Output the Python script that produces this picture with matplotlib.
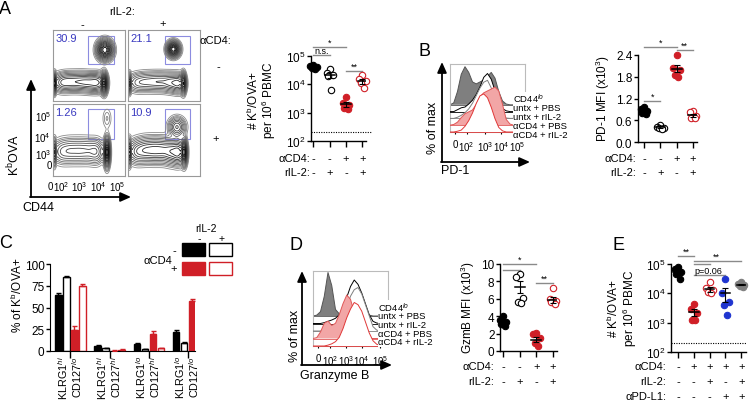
import numpy as np
import matplotlib
matplotlib.use('Agg')
import matplotlib.pyplot as plt
from matplotlib import transforms
from matplotlib.patches import Rectangle
from matplotlib.ticker import LogLocator, NullLocator, FixedLocator

plt.rcParams['font.family'] = 'Liberation Sans'
plt.rcParams['mathtext.fontset'] = 'custom'
plt.rcParams['mathtext.rm'] = 'Liberation Sans'
plt.rcParams['mathtext.it'] = 'Liberation Sans:italic'
plt.rcParams['mathtext.bf'] = 'Liberation Sans:bold'
plt.rcParams['font.size'] = 7

W, H = 750, 402
RED = '#d01f27'
PINK = '#f2a6a6'
BLUE = '#1f35d0'
GRAY = '#7f7f7f'
SIG = '#8a8a8a'

# ---- data ----
# A: flow populations (cx, cy, sx, sy, weight) in plot fractions
flow_tl = [(0.02, 0.25, 0.014, 0.07, 1.4), (0.12, 0.26, 0.07, 0.07, 0.45),
           (0.22, 0.27, 0.07, 0.07, 0.4), (0.32, 0.27, 0.07, 0.07, 0.4),
           (0.42, 0.27, 0.07, 0.07, 0.45), (0.52, 0.26, 0.07, 0.07, 0.5),
           (0.62, 0.26, 0.06, 0.07, 0.6), (0.71, 0.25, 0.025, 0.075, 1.5),
           (0.72, 0.72, 0.055, 0.07, 1.8)]
flow_tr = [(0.02, 0.25, 0.014, 0.07, 1.2), (0.12, 0.26, 0.07, 0.07, 0.4),
           (0.24, 0.27, 0.07, 0.07, 0.45), (0.36, 0.27, 0.07, 0.07, 0.5),
           (0.48, 0.27, 0.07, 0.07, 0.55), (0.60, 0.26, 0.06, 0.07, 0.7),
           (0.70, 0.25, 0.05, 0.07, 0.9), (0.77, 0.25, 0.02, 0.075, 1.5),
           (0.63, 0.73, 0.045, 0.055, 2.4)]
flow_bl = [(0.02, 0.33, 0.014, 0.09, 1.3), (0.12, 0.34, 0.07, 0.09, 0.45),
           (0.24, 0.35, 0.07, 0.09, 0.5), (0.36, 0.35, 0.07, 0.09, 0.5),
           (0.48, 0.35, 0.07, 0.09, 0.5), (0.60, 0.34, 0.06, 0.09, 0.6),
           (0.75, 0.33, 0.022, 0.1, 2.8), (0.75, 0.80, 0.035, 0.08, 0.12)]
flow_br = [(0.02, 0.33, 0.014, 0.09, 1.0), (0.12, 0.34, 0.07, 0.09, 0.45),
           (0.24, 0.36, 0.07, 0.09, 0.55), (0.36, 0.36, 0.07, 0.09, 0.6),
           (0.48, 0.36, 0.07, 0.09, 0.6), (0.60, 0.34, 0.06, 0.09, 0.7),
           (0.70, 0.33, 0.05, 0.09, 0.9), (0.78, 0.33, 0.022, 0.09, 1.6),
           (0.68, 0.68, 0.06, 0.07, 0.6)]
flow_gates = [(0.49, 0.52, 0.85, 0.92), (0.51, 0.52, 0.86, 0.92),
              (0.49, 0.51, 0.85, 0.93), (0.51, 0.51, 0.86, 0.93)]
flow_pct = ['30.9', '21.1', '1.26', '10.9']

# A: counts
a_vals = [[4.8e4, 4.3e4, 4.0e4, 3.7e4, 3.4e4],
          [3.5e4, 2.6e4, 2.1e4, 1.9e4, 6.5e3],
          [3.5e3, 2.2e3, 1.8e3, 1.5e3, 1.3e3],
          [2.1e4, 1.6e4, 1.3e4, 1.1e4, 7.5e3]]
a_mean = [4.0e4, 2.2e4, 2.0e3, 1.3e4]
a_sem = [3e3, 5e3, 4e2, 2.5e3]

# B: PD-1 histograms (x as plot fraction, height as fraction of max)
hist_x = [0, .05, .1, .15, .2, .25, .3, .35, .4, .45, .5, .55, .6, .65, .7,
          .75, .8, .85, .9, .95, 1]
b_cd44lo = [0, .05, .35, .8, 1.0, .85, .6, .55, .6, .65, .75, .85, .7, .35,
            .1, .02, 0, 0, 0, 0, 0]
b_untx_pbs = [0, 0, .05, .1, .12, .2, .3, .45, .65, .9, 1.0, .85, .55, .25,
              .08, .02, 0, 0, 0, 0, 0]
b_untx_il2 = [0, 0, .03, .08, .15, .25, .4, .6, .8, .95, 1.0, .8, .5, .2,
              .06, .01, 0, 0, 0, 0, 0]
b_cd4_pbs = [0, .02, .08, .2, .3, .35, .4, .55, .75, .85, .9, .95, 1.0, .9,
             .55, .15, .03, 0, 0, 0, 0]
b_cd4_il2 = [0, 0, .02, .05, .15, .3, .5, .75, .95, 1.0, .9, .65, .35, .12,
             .03, 0, 0, 0, 0, 0, 0]
hist_names = ['CD44$^{lo}$', 'untx + PBS', 'untx + rIL-2', 'αCD4 + PBS',
              'αCD4 + rIL-2']

b_vals = [[0.97, 0.92, 0.86, 0.80, 0.78],
          [0.46, 0.42, 0.40, 0.38, 0.37],
          [2.40, 2.05, 2.00, 1.85, 1.80],
          [0.85, 0.82, 0.72, 0.66, 0.65]]
b_mean = [0.87, 0.41, 2.02, 0.74]
b_sem = [0.04, 0.02, 0.10, 0.04]

# C: phenotypes
c_lab1 = ['KLRG1$^{hi}$', 'KLRG1$^{hi}$', 'KLRG1$^{lo}$', 'KLRG1$^{lo}$']
c_lab2 = ['CD127$^{lo}$', 'CD127$^{hi}$', 'CD127$^{hi}$', 'CD127$^{lo}$']
c_untx_pbs = [64, 6, 8, 22]
c_untx_pbs_err = [3, 0.6, 1, 2]
c_untx_il2 = [85, 3, 2, 9]
c_untx_il2_err = [1, 0.5, 0.5, 1]
c_cd4_pbs = [24, 0.5, 20, 57]
c_cd4_pbs_err = [5, 0.3, 2.5, 3]
c_cd4_il2 = [75, 1.5, 3, 21]
c_cd4_il2_err = [2.5, 0.5, 0.5, 2.5]

# D: granzyme B histograms
d_cd44lo = [0, .02, .1, .45, 1.0, .7, .15, .05, .1, .3, .6, .75, .6, .3,
            .1, .02, 0, 0, 0, 0, 0]
d_untx_pbs = [0, 0, 0, .02, .05, .08, .12, .2, .35, .6, .85, 1.0, .9, .7,
              .45, .2, .05, .01, 0, 0, 0]
d_untx_il2 = [0, 0, 0, .02, .05, .08, .12, .2, .35, .55, .8, .95, 1.0, .85,
              .6, .35, .1, .02, 0, 0, 0]
d_cd4_pbs = [0, .02, .15, .35, .4, .3, .35, .55, .8, 1.0, .9, .6, .25, .08,
             .02, 0, 0, 0, 0, 0, 0]
d_cd4_il2 = [0, 0, 0, 0, .02, .05, .1, .2, .4, .65, .85, 1.0, .95, .8, .55,
             .3, .12, .04, .01, 0, 0]

d_vals = [[4.0, 3.6, 3.3, 3.1, 2.9],
          [8.8, 8.5, 6.1, 5.6, 5.5],
          [2.1, 1.9, 1.5, 0.9, 0.6],
          [7.2, 6.0, 5.8, 5.6, 5.4]]
d_mean = [3.4, 7.4, 1.3, 5.9]
d_sem = [0.2, 0.7, 0.3, 0.35]

# E: counts with aPD-L1
e_vals = [[8e4, 6.5e4, 5.5e4, 4.5e4, 3e4],
          [4.5e3, 3e3, 2.2e3, 1.2e3, 1.2e3],
          [2.5e4, 1.5e4, 1.3e4, 1.1e4, 1.0e4],
          [3e4, 1e4, 5e3, 4e3, 1.8e3],
          [2.5e4, 2.1e4, 2.0e4, 1.8e4, 1.6e4]]
e_mean = [5.5e4, 2.3e3, 1.4e4, 1.0e4, 2.0e4]
e_sem = [8e3, 6e2, 2.5e3, 5e3, 1.5e3]

LOD = 2e2

# ---- helpers ----
fig = plt.figure(figsize=(W / 100, H / 100), dpi=100)

ov = fig.add_axes([0, 0, 1, 1])
ov.set_xlim(0, W)
ov.set_ylim(H, 0)
ov.axis('off')
ov.set_zorder(10)
ov.patch.set_visible(False)


def box(x0, y0, x1, y1):
    return fig.add_axes([x0 / W, 1 - y1 / H, (x1 - x0) / W, (y1 - y0) / H])


def txt(x, y, s, **kw):
    kw.setdefault('ha', 'center')
    kw.setdefault('va', 'center')
    kw.setdefault('fontsize', 8)
    return ov.text(x, y, s, **kw)


def arrow(x0, y0, x1, y1):
    ov.annotate('', xy=(x1, y1), xytext=(x0, y0),
                arrowprops=dict(arrowstyle='-|>,head_length=0.9,head_width=0.4',
                                color='k', lw=1.3, shrinkA=0, shrinkB=0))


OFFS = [0.0, -0.2, 0.2, -0.1, 0.1]


def dot_plot(ax, vals, means, sems, styles, xlim, ylim, log=False):
    for i, (v, m, s, (c, filled)) in enumerate(zip(vals, means, sems, styles)):
        xs = [i + OFFS[k] for k in range(len(v))]
        ax.plot(xs, v, 'o', ms=4.6, mfc=c if filled else 'white', mec=c,
                mew=0.8, ls='none', zorder=3, clip_on=False)
        ax.plot([i - 0.3, i + 0.3], [m, m], color='k', lw=1.1, zorder=4)
        ax.errorbar(i, m, yerr=s, color='k', lw=0.8, capsize=2.2,
                    capthick=0.8, zorder=4)
    if log:
        ax.set_yscale('log')
        ax.yaxis.set_major_locator(LogLocator(base=10, numticks=10))
        ax.yaxis.set_minor_locator(NullLocator())
    ax.set_xlim(*xlim)
    ax.set_ylim(*ylim)
    ax.set_xticks(range(len(vals)))
    ax.set_xticklabels([])
    for sp in ['top', 'right']:
        ax.spines[sp].set_visible(False)
    for sp in ['left', 'bottom']:
        ax.spines[sp].set_linewidth(1)
    ax.tick_params(axis='x', length=4, width=1)
    ax.tick_params(axis='y', length=3, width=1, labelsize=8.5, pad=1)
    ax.patch.set_visible(False)


def sig(ax, x1, x2, y, label, dx=0.0):
    ax.plot([x1, x2], [y, y], color=SIG, lw=1, clip_on=False)
    if label:
        ax.annotate(label, xy=((x1 + x2) / 2 + dx, y), xytext=(0, 0.3),
                    textcoords='offset points', ha='center', va='bottom',
                    fontsize=6.5, annotation_clip=False)


def row_labels(ax, labels, signs, ys, xr):
    tr = transforms.blended_transform_factory(ax.transData, ov.transData)
    for lab, sg, y in zip(labels, signs, ys):
        txt(xr, y, lab, ha='right')
        for i, s in enumerate(sg):
            ov.text(i, y, s, transform=tr, ha='center', va='center',
                    fontsize=8)


FG = np.linspace(0, 1, 160)
FX, FY = np.meshgrid(FG, FG)
LEVELS = [0.012, 0.025, 0.04, 0.06, 0.09, 0.13, 0.18, 0.24, 0.31, 0.4,
          0.5, 0.62, 0.75, 0.88]


def flow(ax, blobs, gate, pct):
    Z = np.zeros_like(FX)
    for cx, cy, sx, sy, w in blobs:
        Z += w * np.exp(-0.5 * (((FX - cx) / sx) ** 2 + ((FY - cy) / sy) ** 2))
    cols = [str(0.55 - 0.55 * k / (len(LEVELS) - 1)) for k in range(len(LEVELS))]
    ax.contour(FX, FY, Z, levels=Z.max() * np.array(LEVELS), colors=cols,
               linewidths=0.6)
    g0, h0, g1, h1 = gate
    ax.add_patch(Rectangle((g0, h0), g1 - g0, h1 - h0, fill=False,
                           ec='#8c8ce0', lw=0.8))
    ax.text(0.03, 0.96, pct, transform=ax.transAxes, color='#3a3ac0',
            fontsize=8, ha='left', va='top')
    ax.set_xlim(0, 1)
    ax.set_ylim(0, 1)
    for sp in ax.spines.values():
        sp.set_color('#999999')
        sp.set_linewidth(0.8)
    ax.set_xticks([])
    ax.set_yticks([])


def hist(ax, curves, styles, scale, ticks):
    offs = [0.4, 0.3, 0.2, 0.1, 0.0]
    for k, (y, (fc, ec)) in enumerate(zip(curves, styles)):
        base = offs[k]
        top = base + scale * np.array(y)
        ax.fill_between(hist_x, base, top, facecolor=fc, edgecolor='none',
                        zorder=2 + k)
        ax.plot(hist_x, top, color=ec, lw=0.7, zorder=2.5 + k)
        ax.plot([0, 1], [base, base], color=ec, lw=0.6, zorder=2.5 + k,
                clip_on=False)
    ax.set_xlim(0, 1)
    ax.set_ylim(0, 1)
    for sp in ax.spines.values():
        sp.set_color('#bbbbbb')
        sp.set_linewidth(0.8)
    ax.set_yticks([])
    ax.xaxis.set_major_locator(FixedLocator(ticks))
    ax.set_xticklabels(['0', '10$^2$', '10$^3$', '10$^4$', '10$^5$'])
    ax.tick_params(axis='x', length=1.5, labelsize=7, pad=3.5)


hist_styles = [(GRAY, '#555555'), ('white', 'k'), ('white', GRAY),
               (PINK, '#e05858'), ('white', '#e03838')]

# ---- A ----
txt(5, 10, 'A', fontsize=13)
txt(122, 12, 'rIL-2:')
txt(82, 25, '-')
txt(163, 24, '+')
txt(215, 41, 'αCD4:')
txt(218, 67, '-')
txt(216, 139, '+')

boxes = [(53, 31, 125, 102), (128, 31, 200, 102),
         (53, 105, 125, 177), (128, 105, 200, 177)]
for bx, blobs, gate, pct in zip(boxes, [flow_tl, flow_tr, flow_bl, flow_br],
                                flow_gates, flow_pct):
    flow(box(*bx), blobs, gate, pct)
for lab, fx in zip(['0', '10$^2$', '10$^3$', '10$^4$', '10$^5$'],
                   [-0.04, 0.11, 0.36, 0.63, 0.89]):
    txt(53 + fx * 72, 187, lab, fontsize=7)
for lab, fy, dx in zip(['10$^5$', '10$^4$', '10$^3$', '0'],
                       [0.83, 0.54, 0.31, 0.15], [0, 0, 0, 1]):
    txt(51 + dx, 177 - fy * 72, lab, fontsize=7, ha='right')
arrow(31, 198, 31, 80)
arrow(30, 198, 131, 198)
txt(14, 155, 'K$^{\\mathrm{b}}$OVA', rotation=90, fontsize=9)
txt(38, 208, 'CD44', fontsize=9)

ax_a = box(311, 57, 366, 142)
dot_plot(ax_a, a_vals, a_mean, a_sem,
         [('k', True), ('k', False), (RED, True), (RED, False)],
         (-0.15, 3.22), (1e2, 1e5), log=True)
ax_a.axhline(LOD, color='k', lw=0.8, ls=(0, (1, 1.2)), xmax=1.1,
             clip_on=False)
sig(ax_a, 0, 2, 2.1e5, '*')
sig(ax_a, 0, 1, 1.08e5, 'n.s.')
sig(ax_a, 2, 3, 3.0e4, '**')
txt(253, 100, '# K$^{\\mathrm{b}}$/OVA+', rotation=90, fontsize=8.5)
txt(269, 100, 'per 10$^6$ PBMC', rotation=90, fontsize=8.5)
row_labels(ax_a, ['αCD4:', 'rIL-2:'], [['-', '-', '+', '+'], ['-', '+', '-', '+']],
           [159, 173], 310)

# ---- B ----
txt(425, 52, 'B', fontsize=13)
ax_bh = box(450, 65, 525, 133)
hist(ax_bh, [b_cd44lo, b_untx_pbs, b_untx_il2, b_cd4_pbs, b_cd4_il2],
     hist_styles, 0.56, [0.07, 0.22, 0.47, 0.68, 0.89])
for name, y in zip(hist_names, [99, 108.5, 117.5, 126.5, 135.5]):
    txt(513, y, name, ha='left', fontsize=6.8,
        bbox=dict(facecolor='white', edgecolor='none', pad=0.05))
arrow(442, 163, 442, 63)
arrow(441, 163, 530, 163)
txt(433, 128, '% of max', rotation=90, fontsize=9)
txt(455, 171, 'PD-1', fontsize=9)

ax_b = box(638, 56, 697, 143)
dot_plot(ax_b, b_vals, b_mean, b_sem,
         [('k', True), ('k', False), (RED, True), (RED, False)],
         (-0.37, 3.25), (0, 2.4))
ax_b.set_yticks([0, 0.6, 1.2, 1.8, 2.4])
ax_b.set_yticklabels(['0.0', '0.6', '1.2', '1.8', '2.4'])
sig(ax_b, 0, 2, 2.62, '*')
sig(ax_b, 2, 3, 2.54, '**')
sig(ax_b, 0, 1, 1.13, '*')
txt(603, 99, 'PD-1 MFI (x10$^3$)', rotation=90, fontsize=8.5)
row_labels(ax_b, ['αCD4:', 'rIL-2:'], [['-', '-', '+', '+'], ['-', '+', '-', '+']],
           [159, 173], 636)

# ---- C ----
txt(6, 244, 'C', fontsize=13)
ax_c = box(50, 265, 195, 352)
GP = 4.9
bar_sets = [(c_untx_pbs, c_untx_pbs_err, 'k', True),
            (c_untx_il2, c_untx_il2_err, 'k', False),
            (c_cd4_pbs, c_cd4_pbs_err, RED, True),
            (c_cd4_il2, c_cd4_il2_err, RED, False)]
for k, (v, e, c, filled) in enumerate(bar_sets):
    xs = [g * GP + k for g in range(len(v))]
    ax_c.bar(xs, v, width=0.82, color=c if filled else 'white', edgecolor=c,
             linewidth=1, zorder=2)
    ax_c.errorbar(xs, v, yerr=[[0] * len(e), e], fmt='none', ecolor=c,
                  elinewidth=1, capsize=1.8, capthick=1, zorder=3)
ax_c.set_xlim(-1.06, 17.06)
ax_c.set_ylim(0, 100)
ax_c.set_yticks([0, 25, 50, 75, 100])
ticks_c = [g * GP + 1.5 for g in range(4)]
ax_c.set_xticks(ticks_c)
ax_c.set_xticklabels([])
for sp in ['top', 'right']:
    ax_c.spines[sp].set_visible(False)
ax_c.tick_params(axis='x', length=5, width=1)
ax_c.tick_params(axis='y', length=3, width=1, labelsize=8.5, pad=1)
ax_c.patch.set_visible(False)
trc = transforms.blended_transform_factory(ax_c.transData, ov.transData)
for t, l1, l2 in zip(ticks_c, c_lab1, c_lab2):
    ov.text(t - 0.95, 356, l1, transform=trc, rotation=90, ha='center',
            va='top', fontsize=7.8)
    ov.text(t + 0.8, 356, l2, transform=trc, rotation=90, ha='center',
            va='top', fontsize=7.8)
txt(17, 295, '% of K$^{\\mathrm{b}}$/OVA+', rotation=90, fontsize=8.5)
# legend
txt(206, 229, 'rIL-2', fontsize=7.5)
txt(199, 239.5, '-', fontsize=7.5)
txt(222, 239.5, '+', fontsize=7.5)
txt(158, 261, 'αCD4', fontsize=8)
txt(174, 251, '-', fontsize=8)
txt(174, 269, '+', fontsize=8)
for (x, y), c, filled in zip([(182, 244), (209, 244), (182, 263), (209, 263)],
                             ['k', 'k', RED, RED], [True, False, True, False]):
    ov.add_patch(Rectangle((x, y), 23, 13, facecolor=c if filled else 'white',
                           edgecolor=c, lw=1))

# ---- D ----
txt(296, 246, 'D', fontsize=13)
ax_dh = box(313, 272, 388, 347)
hist(ax_dh, [d_cd44lo, d_untx_pbs, d_untx_il2, d_cd4_pbs, d_cd4_il2],
     hist_styles, 0.58, [0.07, 0.23, 0.44, 0.65, 0.89])
for name, y in zip(hist_names, [307.5, 317, 326, 334.5, 343]):
    txt(378, y, name, ha='left', fontsize=6.8,
        bbox=dict(facecolor='white', edgecolor='none', pad=0.05))
arrow(302, 366, 302, 272)
arrow(301, 366, 392, 366)
txt(295, 336, '% of max', rotation=90, fontsize=9)
txt(335, 376, 'Granzyme B', fontsize=9)

ax_d = box(500, 265, 557, 352)
dot_plot(ax_d, d_vals, d_mean, d_sem,
         [('k', True), ('k', False), (RED, True), (RED, False)],
         (-0.18, 3.23), (0, 10))
ax_d.set_yticks([0, 2, 4, 6, 8, 10])
sig(ax_d, 0, 2, 10.0, '*')
sig(ax_d, 0, 1, 9.3, '')
sig(ax_d, 2, 3, 7.8, '**')
txt(468, 308, 'GzmB MFI (x10$^3$)', rotation=90, fontsize=8.5)
row_labels(ax_d, ['αCD4:', 'rIL-2:'], [['-', '-', '+', '+'], ['-', '+', '-', '+']],
           [367, 382], 494)

# ---- E ----
txt(618, 246, 'E', fontsize=13)
ax_e = box(671, 265, 746, 353)
dot_plot(ax_e, e_vals, e_mean, e_sem,
         [('k', True), (RED, True), (RED, False), (BLUE, True), (GRAY, True)],
         (-0.44, 4.3), (1e2, 1e5), log=True)
ax_e.axhline(LOD, color='k', lw=0.8, ls=(0, (1, 1.2)), clip_on=False)
sig(ax_e, 0, 1, 1.9e5, '**')
sig(ax_e, 1, 4, 1.27e5, '**', dx=-0.1)
sig(ax_e, 1, 2, 1.0e5, '')
sig(ax_e, 1, 3, 4.2e4, 'p=0.06', dx=-0.1)
txt(613, 308, '# K$^{\\mathrm{b}}$/OVA+', rotation=90, fontsize=8.5)
txt(630, 308, 'per 10$^6$ PBMC', rotation=90, fontsize=8.5)
row_labels(ax_e, ['αCD4:', 'rIL-2:', 'αPD-L1:'],
           [['-', '+', '+', '+', '+'], ['-', '-', '+', '-', '+'],
            ['-', '-', '-', '+', '+']],
           [367, 382, 397], 666)

fig.savefig('out.png', dpi=100)
